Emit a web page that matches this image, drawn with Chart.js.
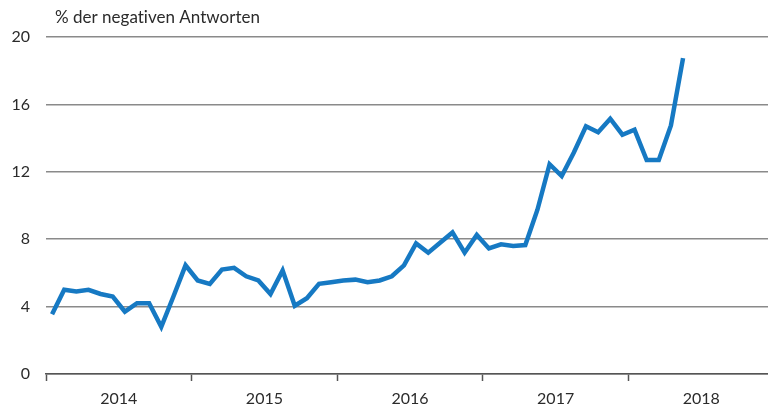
<!DOCTYPE html>
<html>
<head>
<meta charset="utf-8">
<script src="https://cdn.jsdelivr.net/npm/chart.js@4/dist/chart.umd.min.js"></script>
<style>
    html, body { margin: 0; padding: 0; background: #ffffff; }
    #wrap { position: relative; width: 768px; height: 408px; }
</style>
</head>
<body>
<div id="wrap"><canvas id="chart" width="768" height="408"></canvas></div>
<script>
// Monatswerte Jan 2014 – Mai 2018
const yearLabels = ['2014', '2015', '2016', '2017', '2018'];
const values = [
    3.55, 5.0, 4.9, 5.0, 4.75, 4.6, 3.7, 4.2, 4.2, 2.8, 4.6, 6.45,
    5.55, 5.35, 6.2, 6.3, 5.8, 5.55, 4.75, 6.15, 4.05, 4.5, 5.35, 5.45,
    5.55, 5.6, 5.45, 5.55, 5.8, 6.45, 7.75, 7.2, 7.8, 8.4, 7.2, 8.25,
    7.45, 7.7, 7.6, 7.65, 9.75, 12.45, 11.75, 13.15, 14.7, 14.35, 15.15, 14.2,
    14.5, 12.7, 12.7, 14.75, 18.75
];
const yTicks = [0, 4, 8, 12, 16, 20];
const titleText = '% der negativen Antworten';

const FONT = 'Lato, "Noto Sans", sans-serif';
const TEXT_COLOR = '#2b2b2b';

// Titel oben links
const titlePlugin = {
    id: 'topTitle',
    afterDraw(chart) {
        const ctx = chart.ctx;
        ctx.save();
        ctx.font = '17px ' + FONT;
        ctx.fillStyle = TEXT_COLOR;
        ctx.textBaseline = 'middle';
        // keine Ligaturen (ti)
        if ('letterSpacing' in ctx) ctx.letterSpacing = '0.01px';
        ctx.fillText(titleText, 55, 18);
        ctx.restore();
    }
};

const points = values.map((v, i) => ({ x: i + 0.5, y: v }));

new Chart(document.getElementById('chart'), {
    type: 'line',
    data: {
        datasets: [{
            data: points,
            borderColor: '#1679c3',
            borderWidth: 4.5,
            pointRadius: 0,
            tension: 0,
            fill: false
        }]
    },
    options: {
        responsive: false,
        animation: false,
        layout: { padding: { top: 37, right: 0, left: 0, bottom: 0 } },
        plugins: {
            legend: { display: false },
            tooltip: { enabled: false }
        },
        scales: {
            x: {
                type: 'linear',
                min: 0,
                max: 59.5,
                afterBuildTicks: scale => {
                    scale.ticks = [];
                    for (let v = 0; v <= 54; v += 6) scale.ticks.push({ value: v });
                },
                afterFit: scale => { scale.height = 34; },
                ticks: {
                    autoSkip: false,
                    maxRotation: 0,
                    padding: 8,
                    color: TEXT_COLOR,
                    font: { family: FONT, size: 16 },
                    callback: value => (value % 12 === 6 ? yearLabels[(value - 6) / 12] : '')
                },
                grid: {
                    drawOnChartArea: false,
                    drawTicks: true,
                    tickLength: 7,
                    tickWidth: 1.5,
                    tickColor: ctx => (ctx.tick && ctx.tick.value % 12 === 0 ? '#555555' : 'rgba(0,0,0,0)')
                },
                border: { display: true, color: '#555555', width: 1.5 }
            },
            y: {
                min: 0,
                max: 20,
                afterBuildTicks: scale => {
                    scale.ticks = yTicks.map(v => ({ value: v }));
                },
                afterFit: scale => { scale.width = 46; },
                ticks: {
                    padding: 16,
                    color: TEXT_COLOR,
                    font: { family: FONT, size: 16 }
                },
                grid: {
                    color: '#8a8a8a',
                    lineWidth: 1.5,
                    drawTicks: false
                },
                border: { display: false }
            }
        }
    },
    plugins: [titlePlugin]
});
</script>
</body>
</html>
